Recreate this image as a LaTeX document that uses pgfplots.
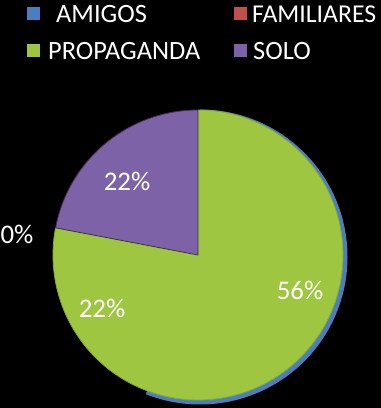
\documentclass[border=0pt]{standalone}
\usepackage{pgfplots}
\usepackage{pgfplotstable}
\usepackage{fontspec}
\setmainfont{Carlito}
\pgfplotsset{compat=1.18}
\definecolor{cAmigos}{RGB}{74,126,190}
\definecolor{cFam}{RGB}{192,80,77}
\definecolor{cProp}{RGB}{158,198,64}
\definecolor{cSolo}{RGB}{126,98,168}
\pgfplotstableread{
name pct
AMIGOS 56
FAMILIARES 0
PROPAGANDA 22
SOLO 22
}\piedata
\pgfplotstablegetelem{0}{pct}\of\piedata \let\pA\pgfplotsretval
\pgfplotstablegetelem{1}{pct}\of\piedata \let\pF\pgfplotsretval
\pgfplotstablegetelem{2}{pct}\of\piedata \let\pP\pgfplotsretval
\pgfplotstablegetelem{3}{pct}\of\piedata \let\pS\pgfplotsretval
\begin{document}
\begin{tikzpicture}
\useasboundingbox (0,0) rectangle (381bp,408bp);
\fill[black] (0,0) rectangle (381bp,408bp);
\begin{axis}[at={(0,0)}, anchor=south west, width=381bp, height=408bp,
  scale only axis, xmin=0, xmax=381, ymin=0, ymax=408, hide axis, clip=false]
% angles (clockwise from 12 o'clock)
\pgfmathsetmacro{\aA}{90-3.6*\pA}
\pgfmathsetmacro{\aF}{\aA-3.6*\pF}
\pgfmathsetmacro{\aP}{\aF-3.6*\pP}
\pgfmathsetmacro{\aS}{\aP-3.6*\pS}
% AMIGOS (behind, slightly offset)
\fill[cAmigos] (axis cs:200,151) -- ++(90:147.5bp) arc[start angle=90, end angle=\aA, radius=147.5bp] -- cycle;
% FAMILIARES, PROPAGANDA drawn as the reference shows (green covering)
\fill[cProp] (axis cs:198,153) -- ++(90:145bp) arc[start angle=90, end angle=\aP, radius=145bp] -- cycle;
\draw[cProp!85!black, line width=0.8pt] (axis cs:198,153) ++(90:145bp) arc[start angle=90, end angle=\aP, radius=145bp];
% SOLO
\fill[cSolo, draw=cSolo!50!black, line width=0.8pt] (axis cs:198,153) -- ++(\aP:145bp) arc[start angle=\aP, end angle=\aS, radius=145bp] -- cycle;
% labels
\node[white, font=\fontsize{27}{29}\selectfont] at (axis cs:300,118) {\pA\%};
\node[white, font=\fontsize{27}{29}\selectfont] at (axis cs:102,100) {\pP\%};
\node[white, font=\fontsize{27}{29}\selectfont] at (axis cs:127,227) {\pS\%};
\node[white, font=\fontsize{27}{29}\selectfont] at (axis cs:17,174) {\pF\%};
% legend
\fill[cAmigos] (axis cs:27,388) rectangle (axis cs:40,401);
\fill[cFam] (axis cs:234,388) rectangle (axis cs:247,401);
\fill[cProp] (axis cs:27,351) rectangle (axis cs:40,364);
\fill[cSolo] (axis cs:234,351) rectangle (axis cs:247,364);
\node[white, anchor=west, inner sep=0pt, font=\fontsize{26.5}{29}\selectfont] at (axis cs:56,394) {AMIGOS};
\node[white, anchor=west, inner sep=0pt, font=\fontsize{25.8}{29}\selectfont] at (axis cs:252,394) {FAMILIARES};
\node[white, anchor=west, inner sep=0pt, font=\fontsize{26.5}{29}\selectfont] at (axis cs:48,357) {PROPAGANDA};
\node[white, anchor=west, inner sep=0pt, font=\fontsize{26.5}{29}\selectfont] at (axis cs:253,357) {SOLO};
\end{axis}
\end{tikzpicture}
\end{document}
